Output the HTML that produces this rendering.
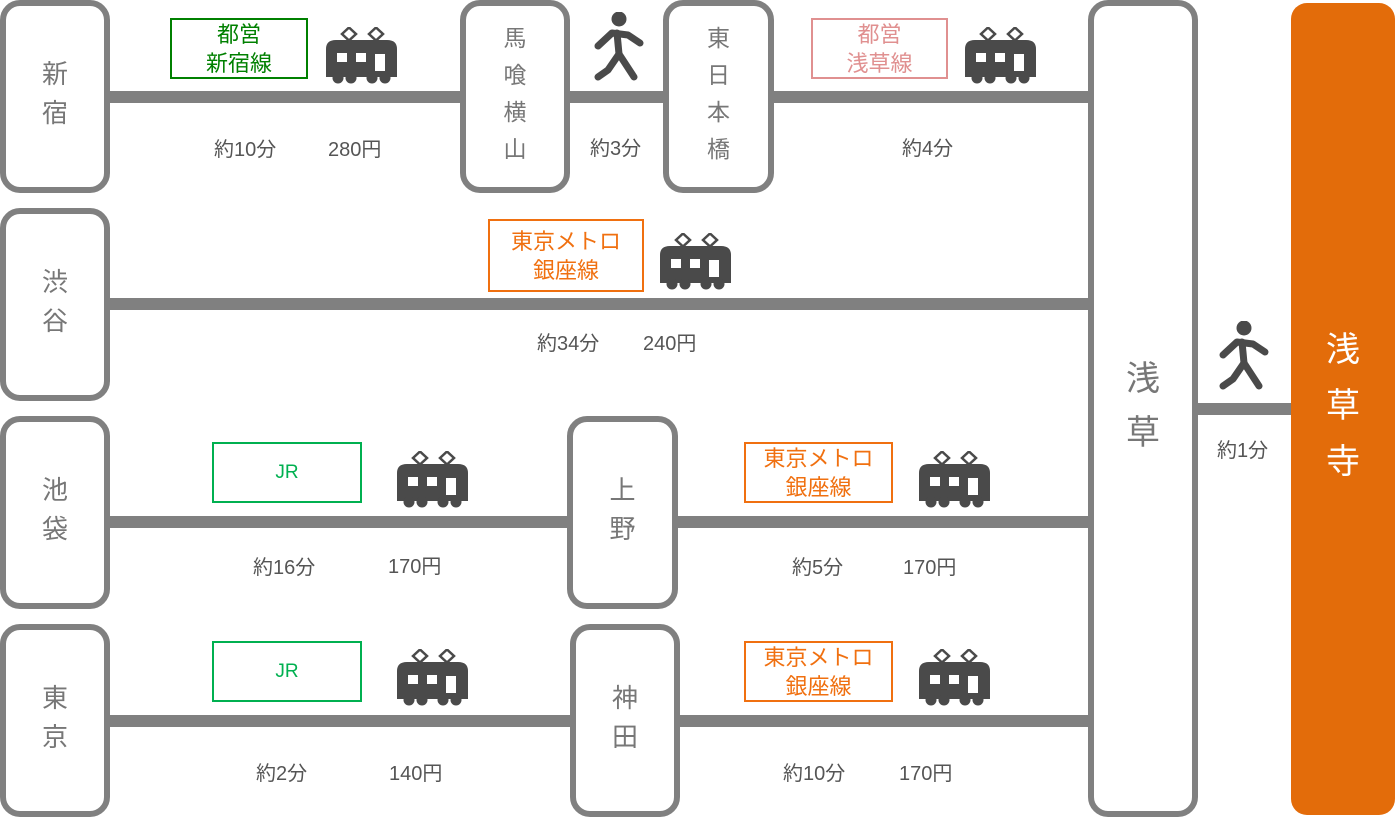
<!DOCTYPE html>
<html><head><meta charset="utf-8"><style>
body{margin:0;width:1395px;height:818px;background:#fff;position:relative;overflow:hidden;font-family:"Liberation Sans","Noto Sans CJK JP",sans-serif}
.a{position:absolute}
.st{position:absolute;box-sizing:border-box;border:6px solid #808080;border-radius:20px;background:#fff;display:flex;align-items:center;justify-content:center;color:#777;font-size:26px;line-height:39px;text-align:center;padding-bottom:6px}
.ln{position:absolute;background:#808080;height:12px}
.lb{position:absolute;box-sizing:border-box;border:2px solid;display:flex;align-items:center;justify-content:center;text-align:center;font-size:22px;line-height:29px}
.t{position:absolute;color:#555;font-size:20px;white-space:nowrap}
svg{position:absolute}
</style></head><body>
<div class="ln" style="left:105px;top:91px;width:360px"></div>
<div class="ln" style="left:565px;top:91px;width:103px"></div>
<div class="ln" style="left:769px;top:91px;width:325px"></div>
<div class="ln" style="left:105px;top:298px;width:989px"></div>
<div class="ln" style="left:105px;top:516px;width:468px"></div>
<div class="ln" style="left:673px;top:516px;width:421px"></div>
<div class="ln" style="left:105px;top:715px;width:471px"></div>
<div class="ln" style="left:675px;top:715px;width:419px"></div>
<div class="ln" style="left:1193px;top:403px;width:100px"></div>

<div class="st" style="left:0;top:0;width:110px;height:193px">新<br>宿</div>
<div class="st" style="left:0;top:208px;width:110px;height:193px">渋<br>谷</div>
<div class="st" style="left:0;top:416px;width:110px;height:193px">池<br>袋</div>
<div class="st" style="left:0;top:624px;width:110px;height:193px">東<br>京</div>
<div class="st" style="left:460px;top:0;width:110px;height:193px;font-size:23px;line-height:37px">馬<br>喰<br>横<br>山</div>
<div class="st" style="left:663px;top:0;width:111px;height:193px;font-size:23px;line-height:37px">東<br>日<br>本<br>橋</div>
<div class="st" style="left:567px;top:416px;width:111px;height:193px">上<br>野</div>
<div class="st" style="left:570px;top:624px;width:110px;height:193px">神<br>田</div>
<div class="st" style="left:1088px;top:0;width:110px;height:817px;font-size:34px;line-height:54px">浅<br>草</div>
<div class="st" style="left:1291px;top:3px;width:104px;height:812px;border:none;background:#e36c0a;color:#fff;font-size:34px;line-height:56px;border-radius:16px">浅<br>草<br>寺</div>

<div class="lb" style="left:170px;top:18px;width:138px;height:61px;border-color:#008000;color:#008000">都営<br>新宿線</div>
<div class="lb" style="left:811px;top:18px;width:137px;height:61px;border-color:#e09090;color:#e09090">都営<br>浅草線</div>
<div class="lb" style="left:488px;top:219px;width:156px;height:73px;border-color:#f07010;color:#f07010">東京メトロ<br>銀座線</div>
<div class="lb" style="left:212px;top:442px;width:150px;height:61px;border-color:#00b050;color:#00b050;font-size:19px">JR</div>
<div class="lb" style="left:744px;top:442px;width:149px;height:61px;border-color:#f07010;color:#f07010">東京メトロ<br>銀座線</div>
<div class="lb" style="left:212px;top:641px;width:150px;height:61px;border-color:#00b050;color:#00b050;font-size:19px">JR</div>
<div class="lb" style="left:744px;top:641px;width:149px;height:61px;border-color:#f07010;color:#f07010">東京メトロ<br>銀座線</div>

<div class="t" style="left:214px;top:133px">約10分</div>
<div class="t" style="left:328px;top:133px">280円</div>
<div class="t" style="left:590px;top:132px">約3分</div>
<div class="t" style="left:902px;top:132px">約4分</div>
<div class="t" style="left:537px;top:327px">約34分</div>
<div class="t" style="left:643px;top:327px">240円</div>
<div class="t" style="left:253px;top:551px">約16分</div>
<div class="t" style="left:388px;top:550px">170円</div>
<div class="t" style="left:792px;top:551px">約5分</div>
<div class="t" style="left:903px;top:551px">170円</div>
<div class="t" style="left:256px;top:757px">約2分</div>
<div class="t" style="left:389px;top:757px">140円</div>
<div class="t" style="left:783px;top:757px">約10分</div>
<div class="t" style="left:899px;top:757px">170円</div>
<div class="t" style="left:1217px;top:434px">約1分</div>

<svg width="0" height="0" style="position:absolute"><defs>
<g id="tr">
<path d="M16,7 L23,0.5 L30,7 L23,13.5 Z M43,7 L50,0.5 L57,7 L50,13.5 Z" fill="none" stroke="#4a4a4a" stroke-width="2.5"/>
<path d="M0,22 Q0,13 10,13 L61,13 Q71,13 71,22 L71,50 L0,50 Z" fill="#4a4a4a"/>
<circle cx="12" cy="51" r="5.5" fill="#4a4a4a"/><circle cx="25" cy="51" r="5.5" fill="#4a4a4a"/>
<circle cx="46" cy="51" r="5.5" fill="#4a4a4a"/><circle cx="59" cy="51" r="5.5" fill="#4a4a4a"/>
<rect x="11" y="26" width="10" height="9" fill="#fff"/><rect x="30" y="26" width="10" height="9" fill="#fff"/><rect x="49" y="27" width="10" height="17" fill="#fff"/>
</g>
<g id="wk" fill="none" stroke="#4a4a4a" stroke-width="7" stroke-linecap="round" stroke-linejoin="round">
<circle cx="26" cy="7" r="7.5" fill="#4a4a4a" stroke="none"/>
<path d="M5,34 L19,21 L35,23 L47,31"/>
<path d="M24,21 L26,42"/>
<path d="M26,42 L15,58 L5,65 M26,42 L41,65"/>
</g>
</defs></svg>
<svg class="a" style="left:326px;top:27px" width="72" height="58"><use href="#tr"/></svg>
<svg class="a" style="left:965px;top:27px" width="72" height="58"><use href="#tr"/></svg>
<svg class="a" style="left:660px;top:233px" width="72" height="58"><use href="#tr"/></svg>
<svg class="a" style="left:397px;top:451px" width="72" height="58"><use href="#tr"/></svg>
<svg class="a" style="left:919px;top:451px" width="72" height="58"><use href="#tr"/></svg>
<svg class="a" style="left:397px;top:649px" width="72" height="58"><use href="#tr"/></svg>
<svg class="a" style="left:919px;top:649px" width="72" height="58"><use href="#tr"/></svg>
<svg class="a" style="left:593px;top:12px" width="52" height="72"><use href="#wk"/></svg>
<svg class="a" style="left:1218px;top:321px" width="52" height="72"><use href="#wk"/></svg>
</body></html>
